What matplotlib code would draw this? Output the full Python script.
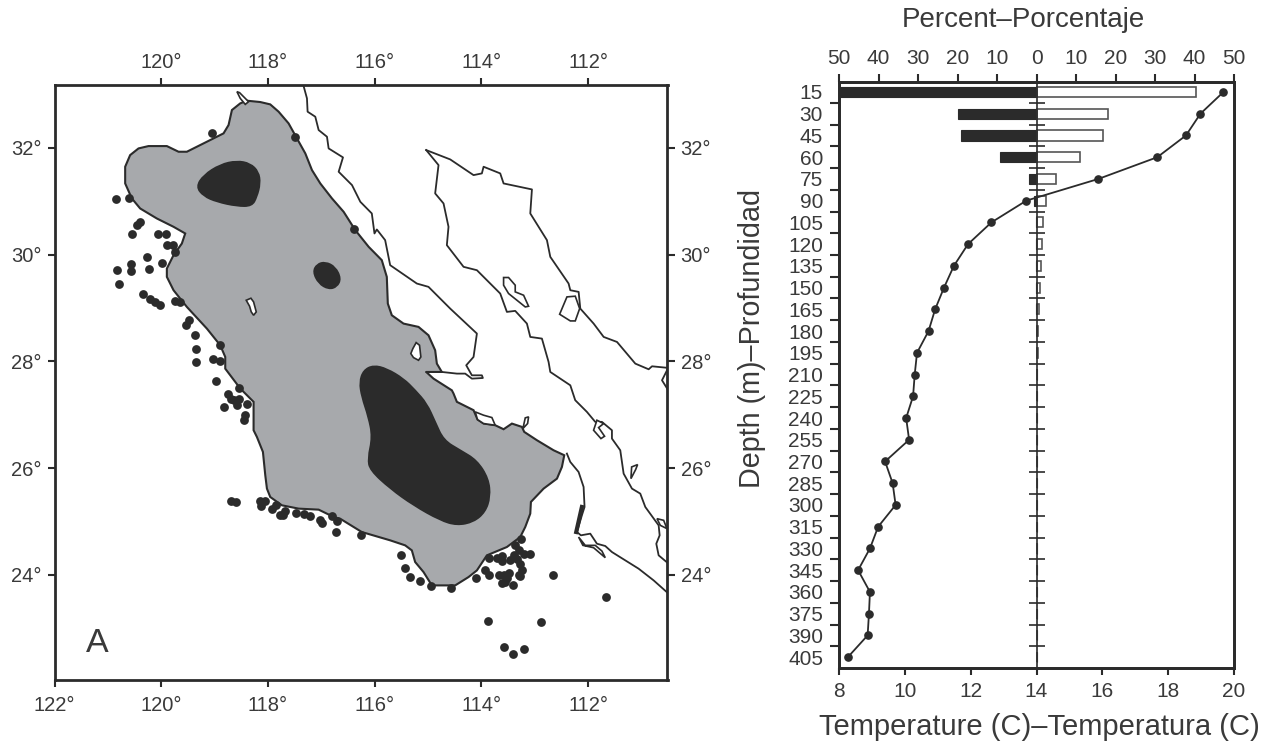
import matplotlib
matplotlib.use("Agg")
import matplotlib.pyplot as plt
from matplotlib.patches import PathPatch
from matplotlib.path import Path
import numpy as np

plt.rcParams['font.family'] = ['Liberation Sans', 'DejaVu Sans']

# outline of the shelf area, lon / lat
shelf = [(118.395,32.881),(118.145,32.856),(117.958,32.812),(117.801,32.675),(117.614,32.456),(117.458,32.175),
         (117.301,31.894),(117.176,31.581),(117.02,31.331),(116.801,31.05),(116.583,30.8),(116.364,30.456),
         (116.114,30.144),(115.868,29.894),(115.774,29.581),(115.755,29.081),(115.68,28.862),(115.461,28.706),
         (115.18,28.644),(114.993,28.487),(114.868,28.206),(114.836,27.956),(114.743,27.8),(115.036,27.8),
         (114.899,27.675),(114.555,27.456),(114.524,27.396),(114.461,27.24),(114.149,27.084),(114.074,26.909),
         (113.961,26.834),(113.743,26.802),(113.586,26.727),(113.43,26.833),(113.243,26.771),(113.199,26.677),
         (112.961,26.521),(112.649,26.333),(112.449,26.24),(112.493,26.021),(112.586,25.802),(112.836,25.615),
         (113.074,25.365),(113.086,25.146),(113.18,24.896),(113.274,24.708),(113.524,24.521),(113.899,24.365),
         (114.086,24.083),(114.243,23.958),(114.493,23.802),(114.93,23.802),(115.086,24.052),(115.243,24.24),
         (115.305,24.458),(115.43,24.552),(115.711,24.646),(116.243,24.802),(116.649,25.052),(116.77,25.084),
         (117.051,25.221),(117.426,25.24),(117.739,25.302),(117.958,25.458),(118.02,25.615),(118.051,25.865),
         (118.095,26.302),(118.208,26.583),(118.27,26.708),(118.27,27.24),(118.52,27.49),(118.801,27.862),
         (118.801,28.081),(118.895,28.3),(119.145,28.612),(119.52,29.018),(119.77,29.331),(119.895,29.581),
         (119.895,29.737),(119.77,29.987),(119.614,30.206),(119.551,30.394),(119.77,30.519),(120.083,30.675),
         (120.395,30.862),(120.551,31.05),(120.676,31.331),(120.676,31.644),(120.583,31.862),(120.426,31.987),
         (120.239,32.031),(119.895,32.031),(119.676,31.925),(119.52,31.925),(119.27,32.05),(119.02,32.175),
         (118.833,32.269),(118.739,32.425),(118.676,32.706),(118.52,32.831)]

# dark patches inside the shelf
patch_north = [(119.345,31.269),(119.208,31.487),(118.895,31.687),(118.583,31.756),(118.333,31.706),(118.176,31.55),
               (118.145,31.331),(118.208,31.081),(118.301,30.906),(118.583,30.906),(118.958,30.987),(119.208,31.094)]
patch_mid = [(117.158,29.675),(117.083,29.819),(116.926,29.862),(116.739,29.769),(116.633,29.55),(116.708,29.394),
             (116.864,29.35),(117.051,29.456)]
patch_south = [(116.286,27.612),(116.211,27.831),(116.024,27.925),(115.774,27.862),(115.461,27.675),(115.243,27.459),
               (115.024,27.209),(114.868,26.865),(114.711,26.521),(114.399,26.334),(114.086,26.146),(113.868,25.802),
               (113.836,25.459),(113.93,25.177),(114.149,24.99),(114.461,24.927),(114.774,25.021),(115.274,25.302),
               (115.711,25.615),(116.086,25.959),(116.13,26.177),(116.043,26.584),(116.118,26.959),(116.243,27.334)]

# islands and small lagoons, white with outline
islands = [
    [(118.408,29.143),(118.32,29.181),(118.27,29.112),(118.22,28.925),(118.27,28.862),(118.314,28.925),(118.345,29.031)],
    [(115.286,28.237),(115.224,28.35),(115.161,28.3),(115.136,28.081),(115.18,28.019),(115.274,28.069),(115.324,28.144)],
    [(118.582,33.05),(118.532,33.031),(118.364,32.862),(118.426,32.812),(118.52,32.925)],
    [(114.118,27.052),(113.961,26.99),(113.805,26.946),(113.743,26.802),(113.961,26.834),(114.074,26.909)],
    [(113.224,26.74),(113.18,26.94),(113.118,26.959),(113.136,26.834)],
    [(112.536,28.881),(112.399,29.206),(112.243,29.219),(112.161,28.987),(112.243,28.756),(112.336,28.756)],
    [(113.586,29.569),(113.493,29.569),(113.368,29.425),(113.368,29.3),(113.211,29.237),(113.118,29.031),(113.18,29.018),
     (113.493,29.269),(113.586,29.425)],
    [(111.837,26.896),(111.712,26.833),(111.806,26.758),(111.694,26.596),(111.762,26.552),(111.9,26.708)],
    [(111.2,25.802),(111.187,26.021),(111.075,26.065),(111.112,25.971)],
    [(110.712,25.052),(110.587,25.021),(110.525,24.865),(110.65,24.927)],
    [(112.181,24.708),(112.1,24.552),(111.9,24.508),(111.681,24.321),(111.744,24.446),(111.869,24.552),(112.056,24.552)],
]

coast_a = [(117.333,33.156),(117.27,32.925),(117.258,32.675),(117.114,32.581),(117.051,32.331),(116.895,32.206),
           (116.864,31.987),(116.595,31.819),(116.676,31.55),(116.426,31.3),(116.27,30.987),(116.055,30.769),
           (116.005,30.394),(115.961,30.469),(115.805,30.269),(115.711,29.8),(115.211,29.456),(114.993,29.394),
           (114.586,28.987),(114.086,28.519),(114.149,28.081),(114.286,27.925),(114.18,27.737),(113.993,27.737),
           (113.974,27.687),(114.18,27.675),(114.305,27.769),(114.461,27.769),(114.743,27.8),(115.036,27.8)]
coast_b = [(115.036,31.956),(114.805,31.675),(114.868,31.144),(114.711,30.956),(114.618,30.519),(114.649,30.175),
           (114.336,29.769),(114.086,29.706),(113.649,29.269),(113.524,28.925),(113.368,28.944),(113.149,28.706),
           (113.086,28.456),(112.868,28.425),(112.743,27.987),(112.711,27.8),(112.336,27.55),(112.244,27.271),
           (112.025,27.052),(111.869,26.865),(111.744,26.865),(111.556,26.708),(111.556,26.552),(111.4,26.333),
           (111.337,25.896),(111.181,25.615),(111.025,25.521),(110.931,25.271),(110.681,24.927),(110.662,24.74),
           (110.725,24.583),(110.681,24.365),(110.494,24.208)]
coast_c = [(115.036,31.956),(114.586,31.781),(114.149,31.487),(113.993,31.519),(113.961,31.644),(113.649,31.519),
           (113.586,31.331),(113.055,31.219),(113.086,30.769),(112.774,30.269),(112.711,29.956),(112.368,29.456),
           (112.336,29.331),(112.18,29.3),(112.149,28.987),(111.899,28.706),(111.711,28.456),(111.461,28.362),
           (111.118,27.956),(110.868,27.85),(110.805,27.906),(110.493,27.875)]
coast_d = [(112.4,26.271),(112.337,26.115),(112.181,25.927),(112.087,25.646),(112.069,25.271),(112.119,25.115),
           (112.212,24.802),(112.137,24.74),(111.962,24.771),(111.837,24.583),(111.681,24.54),(111.556,24.427),
           (111.056,24.115),(110.775,23.896),(110.494,23.646)]
coast_e = [(110.524,27.831),(110.618,27.644),(110.493,27.444)]
lagoon_bar = [(112.119,25.271),(112.225,24.802)]

# fishing stations
stations = [(119.051,32.269),(117.489,32.2),(120.851,31.031),(120.595,31.062),(120.395,30.612),(120.445,30.55),
            (120.539,30.375),(120.064,30.375),(119.908,30.381),(119.895,30.175),(119.789,30.175),(119.751,30.05),
            (120.27,29.956),(120.564,29.831),(120.57,29.694),(119.989,29.843),(120.226,29.737),(120.833,29.706),
            (120.783,29.456),(120.339,29.269),(120.208,29.162),(120.114,29.112),(120.032,29.056),(119.739,29.131),
            (119.658,29.112),(119.489,28.769),(119.533,28.675),(119.376,28.5),(119.345,28.231),(119.351,27.981),
            (119.033,28.037),(118.908,28.006),(118.983,27.631),(118.539,27.506),(116.395,30.469),(118.908,28.3),
            (118.751,27.384),(118.695,27.302),(118.645,27.271),(118.539,27.29),(118.583,27.19),(118.395,27.196),
            (118.833,27.146),(118.426,26.99),(118.451,26.909),(118.701,25.384),(118.608,25.359),(118.145,25.377),
            (118.051,25.377),(118.139,25.284),(117.926,25.227),(117.845,25.315),(117.676,25.196),(117.77,25.127),
            (117.72,25.115),(117.476,25.159),(117.333,25.134),(117.207,25.096),(117.02,25.034),(116.995,24.971),
            (116.801,25.096),(116.708,25.009),(116.733,24.802),(116.258,24.752),(115.511,24.371),(115.424,24.127),
            (115.336,23.958),(115.149,23.89),(114.955,23.79),(114.568,23.758),(114.105,23.946),(113.93,24.096),
            (113.868,23.99),(113.261,24.665),(113.368,24.552),(113.305,24.458),(113.099,24.396),(113.211,24.396),
            (113.399,24.365),(113.474,24.283),(113.336,24.302),(113.274,24.208),(113.868,24.321),(113.711,24.321),
            (113.618,24.346),(113.618,24.252),(113.243,24.084),(113.305,23.99),(113.274,23.971),(113.68,24.002),
            (113.587,23.99),(113.493,24.034),(113.524,23.94),(113.618,23.852),(113.555,23.865),(113.411,23.802),
            (112.661,24.002),(111.668,23.59),(113.874,23.133),(112.887,23.109),(113.58,22.646),(113.211,22.609),
            (113.405,22.515)]

lon_ticks = [120, 118, 116, 114, 112]
lon_ticks_bottom = [122, 120, 118, 116, 114, 112]
lat_ticks = [32, 30, 28, 26, 24]

# depth profile
depth = [15, 30, 45, 60, 75, 90, 105, 120, 135, 150, 165, 180, 195, 210, 225, 240, 255, 270, 285, 300, 315, 330, 345,
         360, 375, 390, 405]
temperature = [19.68, 18.98, 18.54, 17.67, 15.88, 13.69, 12.63, 11.92, 11.49, 11.19, 10.92, 10.72, 10.37, 10.30,
               10.25, 10.04, 10.13, 9.40, 9.63, 9.72, 9.19, 8.94, 8.58, 8.94, 8.91, 8.87, 8.27]
pct_dark = [50, 19.8, 19.1, 9.3, 2.0, 0.6, 0.25, 0.2, 0.15, 0.1, 0.1, 0, 0, 0, 0, 0, 0, 0, 0, 0, 0, 0, 0, 0, 0, 0, 0]
pct_white = [40.3, 18.1, 16.8, 10.9, 5.0, 2.4, 1.7, 1.4, 1.1, 0.85, 0.7, 0.4, 0.3, 0.2, 0, 0, 0, 0, 0, 0, 0, 0, 0, 0,
             0, 0, 0]
pct_ticks = [-50, -40, -30, -20, -10, 0, 10, 20, 30, 40, 50]
temp_ticks = [8, 10, 12, 14, 16, 18, 20]

INK = '#2b2b2b'
TXT = '#3a3a3a'
GREY = '#a7a9ac'
W, H = 1270, 744


def xy(points):
    return list(zip(*points))


def rounded(points):
    # closed outline through the edge midpoints, the read points act as curve controls
    pts = np.array(points)
    mids = (pts + np.roll(pts, -1, axis=0)) / 2
    verts = [mids[-1]]
    codes = [Path.MOVETO]
    for ctrl, end in zip(pts, mids):
        verts += [ctrl, end]
        codes += [Path.CURVE3, Path.CURVE3]
    return Path(verts, codes)


def style_axes(ax, lw=2):
    for s in ax.spines.values():
        s.set_linewidth(lw)
        s.set_color(INK)


fig = plt.figure(figsize=(12.7, 7.44), dpi=100)

# map
ax = fig.add_axes([54.5 / W, 1 - 680 / H, 613 / W, 595 / H])
ax.set_xlim(122, 110.515)
ax.set_ylim(22.03, 33.175)

ax.fill(*xy(shelf), facecolor=GREY, edgecolor=INK, linewidth=1.5, zorder=2)
for p in [patch_north, patch_mid, patch_south]:
    ax.add_patch(PathPatch(rounded(p), facecolor=INK, edgecolor=INK, linewidth=1.2, zorder=3))
for c in [coast_a, coast_b, coast_c, coast_d, coast_e]:
    ax.plot(*xy(c), color=INK, linewidth=1.3, zorder=4)
for isl in islands:
    ax.fill(*xy(isl), facecolor='white', edgecolor=INK, linewidth=1.2, zorder=4)
ax.plot(*xy(lagoon_bar), color=INK, linewidth=3, zorder=4)
ax.scatter(*xy(stations), s=40, color=INK, linewidths=0, zorder=5)

ax.text(121.2, 22.72, 'A', fontsize=24.5, color=TXT, ha='center', va='center')

ax.set_xticks(lon_ticks_bottom)
ax.set_xticklabels([f'{v}\u00b0' for v in lon_ticks_bottom])
ax.set_yticks(lat_ticks)
ax.set_yticklabels([f'{v}\u00b0' for v in lat_ticks])
ax.tick_params(axis='x', length=5, width=1.5, color=INK, labelsize=14.5, labelcolor=TXT, pad=6.8)
ax.tick_params(axis='y', length=5, width=1.5, color=INK, labelsize=14.5, labelcolor=TXT, pad=4.5)
style_axes(ax)

top = ax.secondary_xaxis('top')
top.set_xticks(lon_ticks)
top.set_xticklabels([f'{v}\u00b0' for v in lon_ticks])
top.tick_params(length=5, width=1.5, color=INK, labelsize=14.5, labelcolor=TXT, pad=4)
top.spines['top'].set_visible(False)

right = ax.secondary_yaxis('right')
right.set_yticks(lat_ticks)
right.set_yticklabels([f'{v}\u00b0' for v in lat_ticks])
right.tick_params(length=5, width=1.5, color=INK, labelsize=14.5, labelcolor=TXT, pad=4.5)
right.spines['right'].set_visible(False)

# depth profile, percent axis underneath the temperature axis
rect = [839 / W, 1 - 667.7 / H, 395 / W, 586 / H]
ax_p = fig.add_axes(rect, zorder=1)
ax_t = fig.add_axes(rect, zorder=2)
ax_t.patch.set_visible(False)

ax_p.barh(depth, np.negative(pct_dark), height=7, color=INK, edgecolor=INK, linewidth=0.8)
ax_p.barh(depth, pct_white, height=7, color='white', edgecolor='#555555', linewidth=1.2)
ax_p.axvline(0, color=INK, linewidth=1.2)
mids = np.array(depth[:-1]) + 7.5
ax_p.plot(np.zeros(len(mids)), mids, linestyle='none', marker='_', markersize=11, markeredgewidth=1.2, color=INK)
ax_p.set_xlim(-50, 50)
ax_p.set_ylim(412.3, 7.9)
ax_p.xaxis.tick_top()
ax_p.set_xticks(pct_ticks)
ax_p.set_xticklabels([str(abs(v)) for v in pct_ticks])
ax_p.tick_params(axis='x', length=6, width=1.5, color=INK, labelsize=15, labelcolor=TXT, pad=3.6)
ax_p.set_yticks(depth)
ax_p.set_yticklabels([str(v) for v in depth])
ax_p.tick_params(axis='y', length=0, labelsize=15, labelcolor=TXT, pad=11.5)
ax_p.set_yticks(mids, minor=True)
ax_p.tick_params(axis='y', which='minor', length=6.5, width=1.5, color=INK)
style_axes(ax_p)

ax_t.plot(temperature, depth, color=INK, linewidth=1.3, marker='o', markersize=5.2)
ax_t.set_xlim(8, 20)
ax_t.set_ylim(412.3, 7.9)
ax_t.set_xticks(temp_ticks)
ax_t.tick_params(axis='x', length=5, width=1.5, color=INK, labelsize=15, labelcolor=TXT, pad=5.4)
ax_t.set_yticks([])
style_axes(ax_t)

fig.text(1023.8 / W, 1 - 20 / H, 'Percent\u2013Porcentaje', fontsize=20, color=TXT, ha='center', va='center')
fig.text(1039 / W, 1 - 727 / H, 'Temperature (C)\u2013Temperatura (C)', fontsize=21, color=TXT, ha='center', va='center')
fig.text(752 / W, 1 - 338 / H, 'Depth (m)\u2013Profundidad', fontsize=20.7, color=TXT, ha='center', va='center',
         rotation=90)

fig.savefig('out.png', dpi=100)
